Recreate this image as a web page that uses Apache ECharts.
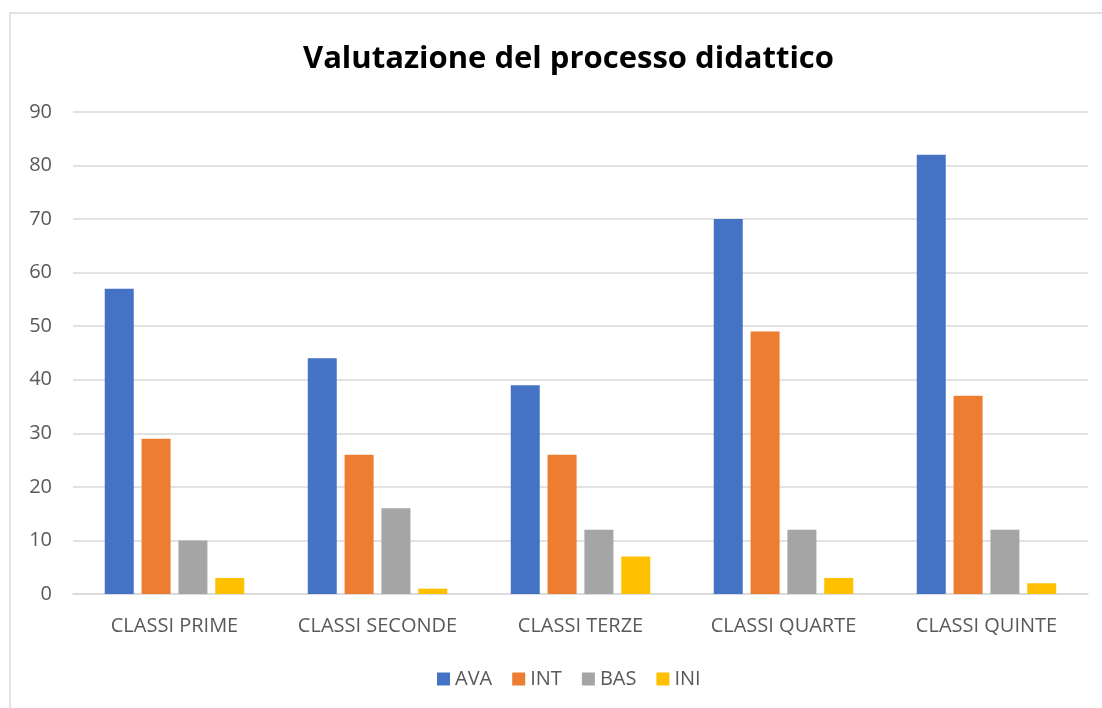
<!DOCTYPE html>
<html><head><meta charset="utf-8">
<script src="https://cdn.jsdelivr.net/npm/echarts@6/dist/echarts.min.js"></script>
<style>html,body{margin:0;padding:0;background:#fff}#c{width:1102px;height:708px}</style>
</head><body><div id="c"></div>
<script>
const categories = ['CLASSI PRIME','CLASSI SECONDE','CLASSI TERZE','CLASSI QUARTE','CLASSI QUINTE'];
const seriesNames = ['AVA','INT','BAS','INI'];
const AVA = [57,44,39,70,82];
const INT = [29,26,26,49,37];
const BAS = [10,16,12,12,12];
const INI = [3,1,7,3,2];
const colors = ['#4472C4','#ED7D31','#A5A5A5','#FFC000'];
const values = [AVA, INT, BAS, INI];
const font = 'Open Sans, Liberation Sans, sans-serif';
const chart = echarts.init(document.getElementById('c'));
chart.setOption({
  animation:false,
  title:{text:'Valutazione del processo didattico',left:298,top:39,
    textStyle:{fontFamily:font,fontWeight:'bold',fontSize:31,color:'#000'}},
  graphic:[{type:'rect',shape:{x:10,y:13,width:1200,height:800},style:{fill:'none',stroke:'#d9d9d9',lineWidth:1.5},silent:true}],
  legend:{bottom:14,left:432,itemWidth:13,itemHeight:13,itemGap:20,icon:'rect',
    textStyle:{fontFamily:font,fontSize:20,color:'#595959'},data:seriesNames},
  grid:{left:73,right:14,top:112,bottom:114,containLabel:false},
  xAxis:{type:'category',data:categories,
    axisLine:{lineStyle:{color:'#d9d9d9',width:1.5}},axisTick:{show:false},
    axisLabel:{interval:0,fontFamily:font,fontSize:20,color:'#595959',margin:22}},
  yAxis:{type:'value',min:0,max:90,interval:10,
    axisLine:{show:false},axisTick:{show:false},
    splitLine:{lineStyle:{color:'#d9d9d9',width:1.5}},
    axisLabel:{fontFamily:font,fontSize:20,color:'#595959',margin:21}},
  series: seriesNames.map((n,i)=>({name:n,type:'bar',data:values[i],
    barWidth:29,barGap:'27%',barCategoryGap:'31%',itemStyle:{color:colors[i]}}))
});
</script></body></html>
